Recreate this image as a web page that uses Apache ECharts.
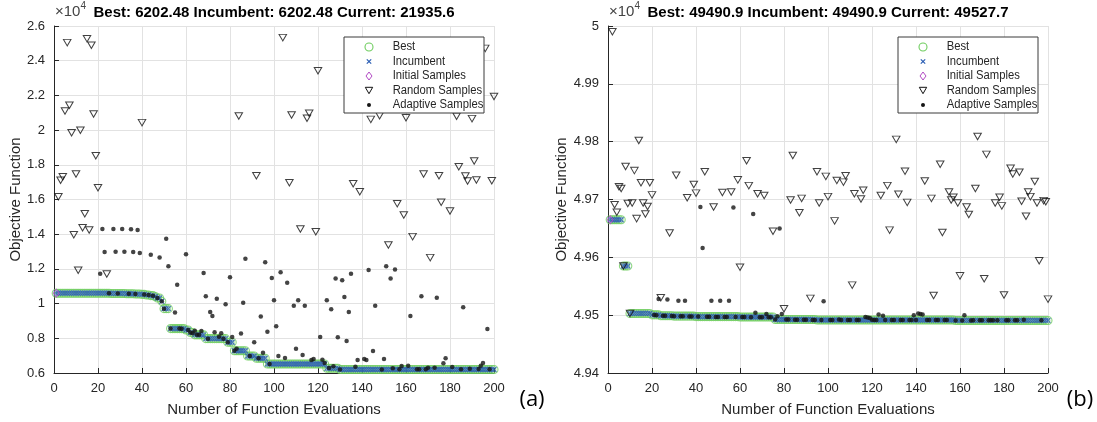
<!DOCTYPE html>
<html><head><meta charset="utf-8">
<script src="https://cdn.jsdelivr.net/npm/echarts@6/dist/echarts.min.js"></script>
<style>html,body{margin:0;padding:0;background:#fff}#c{width:1097px;height:422px}</style>
</head><body><div id="c"></div>
<script>
// ---------------- DATA ----------------
const titleA = 'Best: 6202.48 Incumbent: 6202.48 Current: 21935.6';
const titleB = 'Best: 49490.9 Incumbent: 49490.9 Current: 49527.7';
const legendNames = ['Best', 'Incumbent', 'Initial Samples', 'Random Samples', 'Adaptive Samples'];
const xLabel = 'Number of Function Evaluations';
const yLabel = 'Objective Function';
const nEvals = 200;

// (a) best value: [evaluation where it improves, new best]
const bestStepsA = [[1,10600],[26,10585],[33,10570],[37,10550],[40,10530],[42,10500],[44,10460],[46,10410],[47,10320],[49,10130],[50,9710],[53,8560],[60,8480],[62,8330],[64,8200],[69,7980],[79,7770],[82,7280],[88,6980],[92,6850],[97,6520],[124,6270],[130,6202.48]];
const initialA = [[1,10600]];
const randomA = [[2,16160],[3,17110],[4,17310],[5,21100],[6,25040],[7,21430],[8,19850],[9,13970],[10,17470],[11,11920],[12,19990],[13,14370],[14,15180],[15,25270],[16,14240],[17,24890],[18,20930],[19,18520],[20,16680],[24,11710],[40,20430],[84,20810],[92,17370],[104,25330],[107,16970],[108,20870],[112,14300],[115,20680],[116,20970],[119,14140],[120,23420],[136,16910],[139,16450],[144,20620],[148,20830],[152,13380],[156,15760],[159,15110],[160,20710],[163,13860],[168,17470],[171,12650],[175,17370],[176,15840],[180,15340],[183,20800],[184,17890],[187,17350],[188,17070],[190,20660],[191,18220],[192,17120],[196,24710],[199,17080],[200,21935.6]];
const adaptiveA = [[21,11720],[22,14300],[23,12970],[27,14300],[28,12990],[31,14300],[32,12990],[35,14290],[36,12970],[38,14240],[39,12920],[44,12820],[48,12650],[51,13740],[52,12150],[55,9480],[56,11090],[60,12840],[63,8290],[64,8440],[67,8420],[68,11760],[69,10420],[71,9520],[72,9290],[73,8350],[74,10280],[75,8090],[76,8290],[78,9960],[80,11520],[81,8070],[85,8270],[86,10050],[87,12590],[91,7770],[94,9250],[95,7170],[96,12380],[97,8380],[99,11480],[100,10190],[101,8690],[102,6980],[103,11810],[105,6860],[106,11200],[109,9880],[110,7400],[111,10190],[113,7040],[114,9880],[117,6750],[118,6810],[121,8080],[122,6770],[123,6580],[124,10190],[126,9670],[128,11440],[129,8060],[131,11340],[132,10380],[133,7840],[134,9520],[135,11720],[138,6750],[141,6810],[142,6750],[143,11940],[145,7270],[146,9880],[150,6810],[151,12150],[153,11440],[155,11960],[162,9290],[167,10420],[174,10340],[177,6560],[178,6850],[186,9790],[194,6420],[195,6580],[197,8540],
  [25,10590],[29,10585],[34,10570],[37,10550],[41,10520],[43,10500],[45,10450],[47,10320],[49,10140],[50,9710],[53,8560],[57,8560],[58,8550],[61,8480],[62,8330],[65,8200],[66,8210],[70,7980],[77,7980],[79,7770],[82,7280],[83,7400],[89,6980],[93,6850],[98,6520],[125,6290],[127,6390],[130,6202.48],[137,6360],[149,6205],[154,6270],[157,6215],[158,6400],[161,6420],[165,6210],[166,6210],[169,6210],[170,6300],[173,6300],[181,6350],[185,6210],[189,6250],[193,6225],[198,6210]];

// (b)
const bestStepsB = [[1,49665],[7,49585],[10,49503],[20,49500.5],[24,49499],[30,49498.3],[40,49497.5],[60,49496.8],[76,49492.5],[95,49491.6],[158,49490.9]];
const initialB = [[1,49665]];
const randomB = [[2,49990],[3,49691],[4,49678],[5,49722],[6,49719],[7,49585],[8,49757],[9,49693],[10,49503],[11,49694],[12,49750],[13,49667],[14,49802],[15,49729],[16,49694],[17,49675],[18,49688],[19,49729],[20,49708],[24,49530],[28,49642],[31,49742],[36,49703],[39,49726],[40,49711],[44,49748],[48,49687],[52,49712],[56,49713],[59,49734],[60,49583],[63,49767],[64,49724],[68,49710],[71,49707],[75,49645],[80,49511],[83,49699],[84,49776],[87,49677],[88,49702],[92,49529],[95,49748],[96,49694],[99,49740],[100,49705],[103,49663],[104,49733],[107,49730],[108,49741],[111,49552],[112,49710],[115,49701],[116,49716],[124,49707],[127,49724],[128,49647],[131,49804],[132,49709],[135,49749],[136,49695],[144,49732],[147,49702],[148,49534],[151,49761],[152,49643],[155,49713],[156,49699],[157,49704],[159,49694],[160,49568],[163,49687],[164,49674],[167,49719],[168,49809],[171,49563],[172,49778],[176,49694],[178,49704],[179,49689],[180,49535],[183,49754],[184,49744],[187,49747],[188,49697],[190,49671],[191,49713],[192,49705],[194,49731],[195,49694],[196,49594],[198,49698],[199,49696],[200,49527.7]];
const adaptiveB = [[23,49528],[27,49527],[32,49525],[35,49525],[42,49687],[43,49616],[47,49525],[51,49525],[55,49525],[57,49686],[66,49675],[67,49504],[72,49502],[77,49498],[78,49650],[79,49502],[98,49524],[117,49497],[118,49496],[119,49495],[123,49501],[125,49499],[139,49500],[141,49503],[142,49502],[143,49501],[162,49500],
  [21,49500.5],[22,49500],[25,49499],[26,49499],[29,49498.5],[30,49498.3],[33,49498],[34,49498],[37,49497.8],[38,49497.6],[41,49497.5],[45,49497.2],[46,49497.2],[49,49497],[50,49497],[53,49497],[54,49497],[58,49497],[61,49496.8],[62,49496.8],[65,49496.6],[69,49496.5],[70,49496.5],[73,49496.5],[74,49496.5],[76,49492.5],[81,49492.4],[82,49492.4],[85,49492.2],[86,49492.2],[89,49492],[90,49492],[93,49491.8],[94,49491.8],[97,49491.6],[101,49491.5],[102,49491.5],[105,49492.5],[106,49491.5],[109,49491.5],[110,49491.5],[113,49491.5],[114,49491.5],[120,49492],[121,49491.5],[122,49491.5],[126,49491.5],[129,49491.5],[130,49491.5],[133,49491.5],[134,49491.5],[137,49491.5],[138,49491.5],[140,49491.5],[145,49491.5],[146,49491.5],[149,49491.5],[150,49491.5],[153,49491.5],[154,49491.5],[158,49490.9],[161,49490.9],[165,49490.9],[166,49491],[169,49491],[170,49491],[173,49491],[174,49491],[175,49491],[177,49491],[181,49491],[182,49491],[185,49491],[186,49491],[189,49492],[197,49491]];

// ---------------- CHART ----------------
function runningBest(steps, n) {
  const out = []; let k = 0;
  for (let i = 1; i <= n; i++) {
    while (k + 1 < steps.length && steps[k + 1][0] <= i) k++;
    out.push([i, steps[k][1]]);
  }
  return out;
}
const bestA = runningBest(bestStepsA, nEvals), bestB = runningBest(bestStepsB, nEvals);

const C = { green: '#6fcd5f', blue: '#2a5db4', mag: '#b24ac4', ink: '#262626' };
const FONT = 'Liberation Sans, Arial, sans-serif';
const X_PATH = 'path://M0,0L10,10M10,0L0,10';

function seriesFor(gi, best, initial, random, adaptive) {
  const base = { type: 'scatter', xAxisIndex: gi, yAxisIndex: gi, silent: true, animation: false };
  return [
    Object.assign({}, base, { name: legendNames[0], data: best, symbol: 'circle', symbolSize: 8, z: 2,
      itemStyle: { color: 'rgba(0,0,0,0)', borderColor: C.green, borderWidth: 1.1 } }),
    Object.assign({}, base, { name: legendNames[1], data: best, symbol: X_PATH, symbolSize: 5, z: 3,
      itemStyle: { color: 'rgba(0,0,0,0)', borderColor: C.blue, borderWidth: 1.2 } }),
    Object.assign({}, base, { name: legendNames[2], data: initial, symbol: 'diamond', symbolSize: [6, 8], z: 4,
      itemStyle: { color: 'rgba(0,0,0,0)', borderColor: C.mag, borderWidth: 1 } }),
    Object.assign({}, base, { name: legendNames[3], data: random, symbol: 'triangle', symbolRotate: 180, symbolSize: [7.5, 6.5], z: 5,
      itemStyle: { color: 'rgba(0,0,0,0)', borderColor: '#111', borderWidth: 1 } }),
    Object.assign({}, base, { name: legendNames[4], data: adaptive, symbol: 'circle', symbolSize: 4.5, z: 6,
      itemStyle: { color: '#151515' } })
  ];
}

function xAxisFor(gi) {
  return { gridIndex: gi, type: 'value', min: 0, max: 200, interval: 20,
    name: xLabel, nameLocation: 'middle', nameGap: 29,
    nameTextStyle: { fontSize: 15, color: C.ink, fontFamily: FONT },
    axisLine: { show: true, onZero: false, lineStyle: { color: C.ink, width: 1 } },
    axisTick: { show: true, inside: true, length: 5, lineStyle: { color: C.ink } },
    axisLabel: { fontSize: 13, color: C.ink, margin: 9, fontFamily: FONT },
    splitLine: { show: true, lineStyle: { color: '#e2e2e2', width: 1 } } };
}
function yAxisFor(gi, min, max, interval, dec) {
  return { gridIndex: gi, type: 'value', min: min, max: max, interval: interval,
    name: yLabel, nameLocation: 'middle', nameGap: 28, nameRotate: 90,
    nameTextStyle: { fontSize: 15, color: C.ink, fontFamily: FONT },
    axisLine: { show: true, onZero: false, lineStyle: { color: C.ink, width: 1 } },
    axisTick: { show: true, inside: true, length: 5, lineStyle: { color: C.ink } },
    axisLabel: { fontSize: 13, color: C.ink, margin: 9, fontFamily: FONT,
      formatter: v => String(+(v / 1e4).toFixed(dec)) },
    splitLine: { show: true, lineStyle: { color: '#e2e2e2', width: 1 } } };
}

function legendGraphics(left, top) {
  const els = [];
  els.push({ type: 'rect', shape: { x: left, y: top, width: 140, height: 76 }, z: 100,
    style: { fill: '#fff', stroke: '#3a3a3a', lineWidth: 1 } });
  const sx = left + 25, tx = left + 48.7;
  const ys = [0, 1, 2, 3, 4].map(i => top + 10 + i * 14.5);
  els.push({ type: 'circle', shape: { cx: sx, cy: ys[0], r: 4 }, z: 101, style: { fill: 'none', stroke: C.green, lineWidth: 1.1 } });
  els.push({ type: 'polyline', shape: { points: [[sx - 2.2, ys[1] - 2.2], [sx + 2.2, ys[1] + 2.2]] }, z: 101, style: { stroke: C.blue, lineWidth: 1.2 } });
  els.push({ type: 'polyline', shape: { points: [[sx + 2.2, ys[1] - 2.2], [sx - 2.2, ys[1] + 2.2]] }, z: 101, style: { stroke: C.blue, lineWidth: 1.2 } });
  els.push({ type: 'polygon', shape: { points: [[sx, ys[2] - 4], [sx + 3, ys[2]], [sx, ys[2] + 4], [sx - 3, ys[2]]] }, z: 101, style: { fill: 'none', stroke: C.mag, lineWidth: 1 } });
  els.push({ type: 'polygon', shape: { points: [[sx - 3.7, ys[3] - 3.2], [sx + 3.7, ys[3] - 3.2], [sx, ys[3] + 3.2]] }, z: 101, style: { fill: 'none', stroke: '#111', lineWidth: 1 } });
  els.push({ type: 'circle', shape: { cx: sx, cy: ys[4], r: 2 }, z: 101, style: { fill: '#151515' } });
  legendNames.forEach((n, i) => els.push({ type: 'text', x: tx, y: ys[i], z: 101, scaleX: 0.9,
    style: { text: n, font: '12.5px ' + FONT, fill: C.ink, align: 'left', verticalAlign: 'middle' } }));
  return els;
}

function textEl(x, y, text, font, align, fill) {
  return { type: 'text', x: x, y: y, z: 50, style: { text: text, font: font, fill: fill || C.ink, align: align || 'center', verticalAlign: 'middle' } };
}

const chart = echarts.init(document.getElementById('c'), null, { renderer: 'canvas' });
chart.setOption({
  animation: false,
  backgroundColor: '#fff',
  grid: [
    { left: 54, top: 26, width: 440, height: 347, outerBoundsMode: 'none', containLabel: false },
    { left: 608, top: 26, width: 440, height: 347, outerBoundsMode: 'none', containLabel: false }
  ],
  xAxis: [xAxisFor(0), xAxisFor(1)],
  yAxis: [yAxisFor(0, 6000, 26000, 2000, 1), yAxisFor(1, 49400, 50000, 100, 2)],
  series: [].concat(seriesFor(0, bestA, initialA, randomA, adaptiveA), seriesFor(1, bestB, initialB, randomB, adaptiveB)),
  graphic: [].concat(
    [textEl(274, 13, titleA, 'bold 15px ' + FONT, 'center', '#000'),
     textEl(828, 13, titleB, 'bold 15px ' + FONT, 'center', '#000'),
     textEl(55, 12, '×10', '15px ' + FONT, 'left', '#444'),
     textEl(80.5, 6, '4', '10px ' + FONT, 'left', '#444'),
     textEl(609, 12, '×10', '15px ' + FONT, 'left', '#444'),
     textEl(634.5, 6, '4', '10px ' + FONT, 'left', '#444'),
     textEl(532, 400, '(a)', '22px Open Sans, sans-serif', 'center', '#000'),
     textEl(1080, 400, '(b)', '22px Open Sans, sans-serif', 'center', '#000')],
    legendGraphics(344, 37), legendGraphics(898, 37))
});
</script></body></html>
